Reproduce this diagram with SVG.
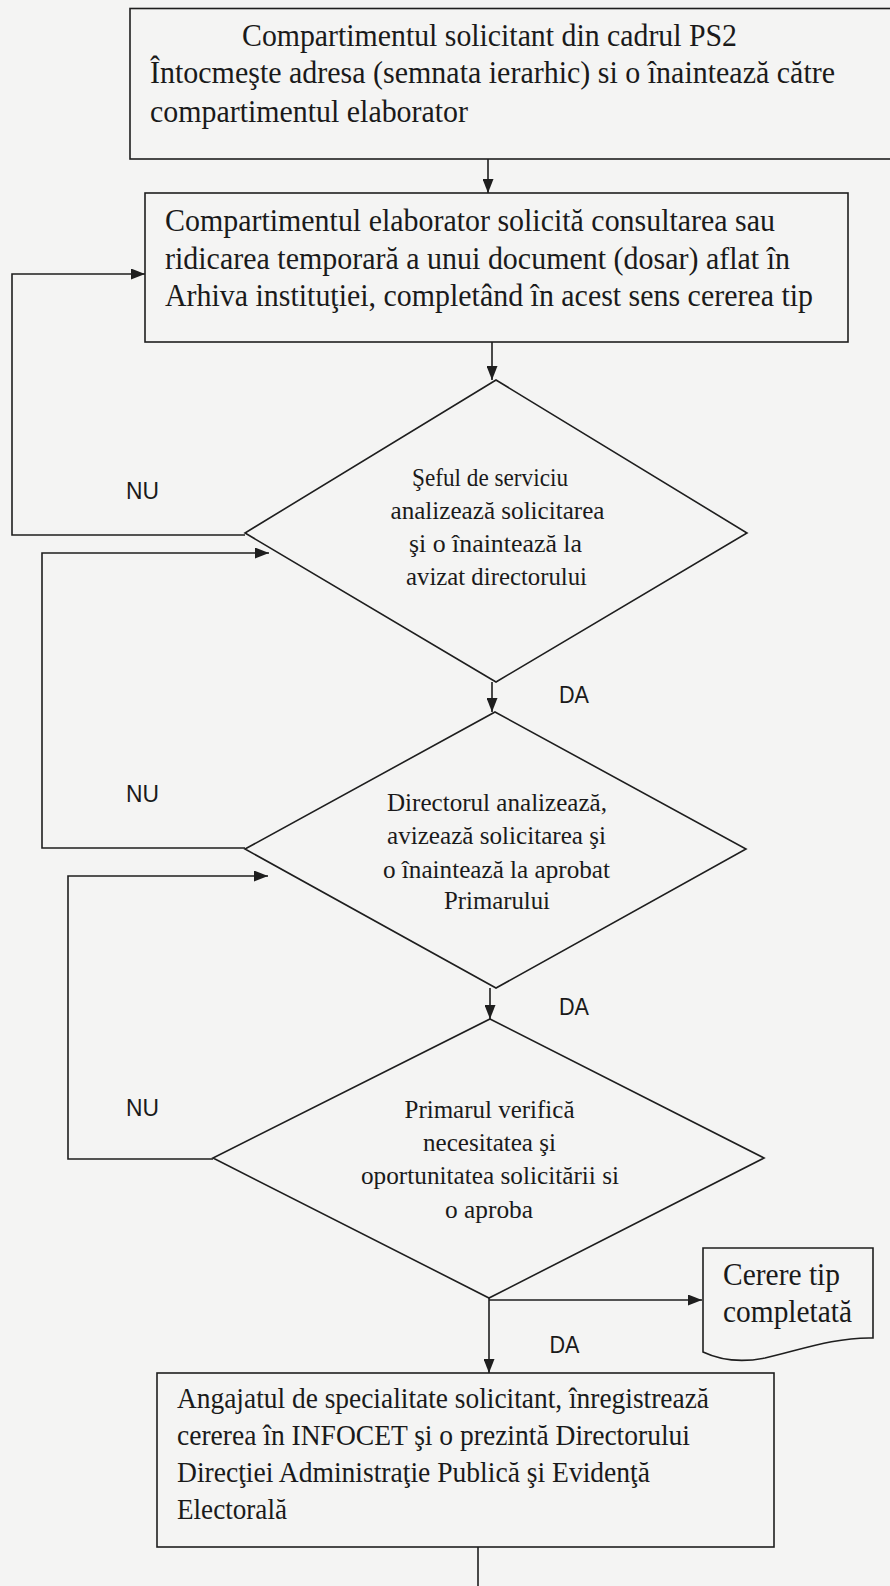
<svg xmlns="http://www.w3.org/2000/svg" width="890" height="1586" viewBox="0 0 890 1586">
  <defs>
    <marker id="arrow" markerUnits="userSpaceOnUse" markerWidth="14" markerHeight="11" refX="14" refY="5.5" orient="auto">
      <path d="M0,0 L14,5.5 L0,11 Z" fill="#1e1e1e"/>
    </marker>
    <style>
      .shape { fill: #f4f4f3; stroke: #1e1e1e; stroke-width: 1.6; }
      .edge { fill: none; stroke: #1e1e1e; stroke-width: 1.6; }
      .arrow { marker-end: url(#arrow); }
      .box { font-family: "Liberation Serif", "Times New Roman", serif; font-size: 32px; fill: #1a1a1a; }
      .box4 { font-family: "Liberation Serif", "Times New Roman", serif; font-size: 29px; fill: #1a1a1a; }
      .dec { font-family: "Liberation Serif", "Times New Roman", serif; font-size: 25.5px; fill: #1a1a1a; }
      .lbl { font-family: "Liberation Sans", Arial, sans-serif; font-size: 23px; fill: #1a1a1a; }
    </style>
  </defs>

  <rect x="0" y="0" width="890" height="1586" fill="#f4f4f3"/>

  <!-- connectors -->
  <g id="connectors">
    <path class="edge arrow" d="M488,159 V193"/>
    <path class="edge arrow" d="M492,342 V380"/>
    <path class="edge arrow" d="M492,682 V712"/>
    <path class="edge arrow" d="M490,988 V1019"/>
    <path class="edge arrow" d="M489,1298 V1373"/>
    <path class="edge arrow" d="M489,1300 H702"/>
    <path class="edge arrow" d="M245,535 H12 V274 H145"/>
    <path class="edge arrow" d="M245,848 H42 V553 H269"/>
    <path class="edge arrow" d="M213,1159 H68 V876 H268"/>
    <path class="edge" d="M478,1547 V1590"/>
    <text class="lbl" x="126" y="499" textLength="33" lengthAdjust="spacingAndGlyphs">NU</text>
    <text class="lbl" x="126" y="802" textLength="33" lengthAdjust="spacingAndGlyphs">NU</text>
    <text class="lbl" x="126" y="1116" textLength="33" lengthAdjust="spacingAndGlyphs">NU</text>
    <text class="lbl" x="559" y="703" textLength="30" lengthAdjust="spacingAndGlyphs">DA</text>
    <text class="lbl" x="559" y="1015" textLength="30" lengthAdjust="spacingAndGlyphs">DA</text>
    <text class="lbl" x="549.5" y="1353" textLength="30" lengthAdjust="spacingAndGlyphs">DA</text>
  </g>

  <!-- requesting department -->
  <g id="start">
    <rect class="shape" x="130" y="8.5" width="764" height="150.5"/>
    <text class="box" x="242" y="46" textLength="495" lengthAdjust="spacingAndGlyphs">Compartimentul solicitant din cadrul PS2</text>
    <text class="box" x="150" y="83" textLength="685" lengthAdjust="spacingAndGlyphs">Întocmeşte adresa (semnata ierarhic) si o înaintează către</text>
    <text class="box" x="150" y="122" textLength="318" lengthAdjust="spacingAndGlyphs">compartimentul elaborator</text>
  </g>

  <!-- drafting department -->
  <g id="elaborator">
    <rect class="shape" x="145" y="193" width="703" height="149"/>
    <text class="box" x="165" y="231" textLength="610" lengthAdjust="spacingAndGlyphs">Compartimentul elaborator solicită consultarea sau</text>
    <text class="box" x="165" y="269" textLength="625" lengthAdjust="spacingAndGlyphs">ridicarea temporară a unui document (dosar) aflat în</text>
    <text class="box" x="165" y="306" textLength="648" lengthAdjust="spacingAndGlyphs">Arhiva instituţiei, completând în acest sens cererea tip</text>
  </g>

  <!-- decision: head of service -->
  <g id="sef-serviciu">
    <polygon class="shape" points="496,380 747,533 496,682 245,533"/>
    <text class="dec" x="412" y="486" textLength="156" lengthAdjust="spacingAndGlyphs">Şeful de serviciu</text>
    <text class="dec" x="390.5" y="519" textLength="214" lengthAdjust="spacingAndGlyphs">analizează solicitarea</text>
    <text class="dec" x="409" y="552" textLength="173" lengthAdjust="spacingAndGlyphs">şi o înaintează la</text>
    <text class="dec" x="406" y="585" textLength="181" lengthAdjust="spacingAndGlyphs">avizat directorului</text>
  </g>

  <!-- decision: director -->
  <g id="director">
    <polygon class="shape" points="495,712 746,849 496,988 245,849"/>
    <text class="dec" x="387" y="811" textLength="220" lengthAdjust="spacingAndGlyphs">Directorul analizează,</text>
    <text class="dec" x="387" y="844" textLength="219" lengthAdjust="spacingAndGlyphs">avizează solicitarea şi</text>
    <text class="dec" x="383" y="878" textLength="227" lengthAdjust="spacingAndGlyphs">o înaintează la aprobat</text>
    <text class="dec" x="444" y="909" textLength="106" lengthAdjust="spacingAndGlyphs">Primarului</text>
  </g>

  <!-- decision: mayor -->
  <g id="primar">
    <polygon class="shape" points="490,1019 764,1158 489,1298 213,1158"/>
    <text class="dec" x="404.5" y="1118" textLength="170" lengthAdjust="spacingAndGlyphs">Primarul verifică</text>
    <text class="dec" x="423" y="1151" textLength="133" lengthAdjust="spacingAndGlyphs">necesitatea şi</text>
    <text class="dec" x="361" y="1184" textLength="258" lengthAdjust="spacingAndGlyphs">oportunitatea solicitării si</text>
    <text class="dec" x="445" y="1218" textLength="88" lengthAdjust="spacingAndGlyphs">o aproba</text>
  </g>

  <!-- output document -->
  <g id="cerere-tip">
    <path class="shape" d="M703,1248 H873 V1338 C835,1337 800,1350 765,1358 C740,1363 720,1360 703,1352 Z"/>
    <text class="box" x="723" y="1285" textLength="117" lengthAdjust="spacingAndGlyphs">Cerere tip</text>
    <text class="box" x="723" y="1322" textLength="129" lengthAdjust="spacingAndGlyphs">completată</text>
  </g>

  <!-- registration -->
  <g id="inregistrare">
    <rect class="shape" x="157" y="1373" width="617" height="174"/>
    <text class="box4" x="177" y="1408" textLength="532" lengthAdjust="spacingAndGlyphs">Angajatul de specialitate solicitant, înregistrează</text>
    <text class="box4" x="177" y="1445" textLength="513" lengthAdjust="spacingAndGlyphs">cererea în INFOCET şi o prezintă Directorului</text>
    <text class="box4" x="177" y="1482" textLength="473" lengthAdjust="spacingAndGlyphs">Direcţiei Administraţie Publică şi Evidenţă</text>
    <text class="box4" x="177" y="1519" textLength="110" lengthAdjust="spacingAndGlyphs">Electorală</text>
  </g>
</svg>
